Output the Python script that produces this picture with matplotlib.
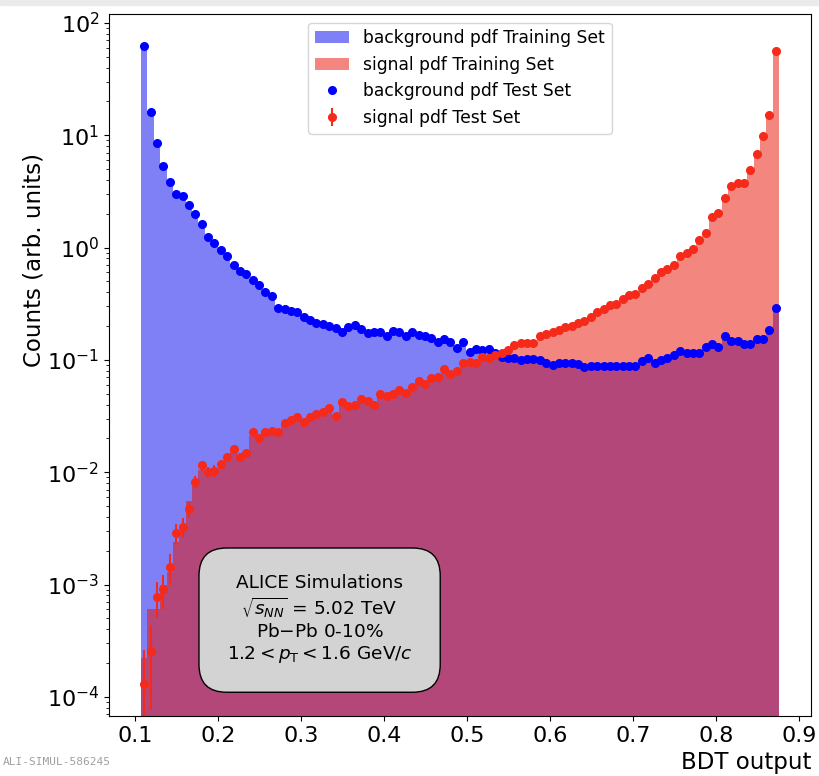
import numpy as np
import matplotlib
matplotlib.use("Agg")
import matplotlib.pyplot as plt
from matplotlib.patches import Rectangle

# binning of the BDT output (100 bins)
bdt_min = 0.107
bdt_max = 0.876
n_bins = 100

# test set (points)
bkg_test = [62.4, 16.2, 8.5, 5.3, 3.84, 3.0, 2.88, 2.41, 1.98, 1.61,
            1.24, 1.09, 0.95, 0.84, 0.695, 0.62, 0.578, 0.514, 0.461, 0.40,
            0.368, 0.288, 0.282, 0.274, 0.265, 0.243, 0.226, 0.214, 0.207, 0.200,
            0.191, 0.178, 0.195, 0.205, 0.188, 0.172, 0.178, 0.176, 0.164, 0.181,
            0.178, 0.164, 0.178, 0.167, 0.164, 0.156, 0.143, 0.153, 0.143, 0.127,
            0.143, 0.118, 0.124, 0.122, 0.124, 0.115, 0.107, 0.105, 0.103, 0.100,
            0.101, 0.101, 0.100, 0.094, 0.090, 0.093, 0.094, 0.094, 0.091, 0.087,
            0.089, 0.089, 0.088, 0.089, 0.088, 0.088, 0.088, 0.088, 0.0986, 0.103,
            0.093, 0.100, 0.103, 0.111, 0.120, 0.115, 0.116, 0.116, 0.129, 0.138,
            0.130, 0.163, 0.148, 0.148, 0.138, 0.138, 0.153, 0.153, 0.185, 0.288]

sig_test = [1.30e-4, 2.57e-4, 7.8e-4, 9.1e-4, 1.42e-3, 2.86e-3, 3.23e-3, 4.68e-3, 8.2e-3, 0.0115,
            0.0100, 0.0103, 0.0118, 0.0136, 0.0162, 0.0136, 0.0147, 0.0228, 0.0202, 0.0228,
            0.0234, 0.0228, 0.0276, 0.0292, 0.0308, 0.0282, 0.0308, 0.033, 0.0346, 0.037,
            0.0316, 0.0422, 0.0389, 0.0395, 0.0446, 0.0434, 0.0398, 0.0497, 0.0477, 0.0497,
            0.054, 0.051, 0.0577, 0.0644, 0.061, 0.069, 0.071, 0.0836, 0.0748, 0.079,
            0.0944, 0.0958, 0.0932, 0.1067, 0.105, 0.1106, 0.116, 0.1225, 0.135, 0.140,
            0.141, 0.140, 0.164, 0.170, 0.176, 0.185, 0.198, 0.200, 0.212, 0.223,
            0.239, 0.269, 0.282, 0.308, 0.312, 0.350, 0.382, 0.387, 0.435, 0.478,
            0.54, 0.603, 0.641, 0.70, 0.842, 0.901, 0.972, 1.17, 1.36, 1.88,
            2.05, 2.75, 3.53, 3.78, 3.78, 4.91, 6.78, 9.86, 15.2, 56.6]

# visible error bars of the first signal test points (the rest hide under the markers)
sig_test_err_low = [1.3e-4, 1.8e-4, 2.8e-4, 3.0e-4, 4.3e-4, 6.0e-4, 6.5e-4, 7.8e-4, 1.0e-3, 1.2e-3,
                    1.1e-3, 1.2e-3]

# training set (filled histograms)
bkg_train = [62.0, 16.5, 8.3, 5.2, 3.8, 3.0, 2.85, 2.4, 1.97, 1.6,
             1.25, 1.08, 0.95, 0.83, 0.70, 0.62, 0.575, 0.515, 0.46, 0.40,
             0.365, 0.29, 0.28, 0.274, 0.263, 0.243, 0.226, 0.214, 0.206, 0.199,
             0.19, 0.18, 0.192, 0.2, 0.188, 0.174, 0.178, 0.175, 0.165, 0.178,
             0.176, 0.165, 0.175, 0.167, 0.163, 0.156, 0.145, 0.151, 0.142, 0.13,
             0.14, 0.12, 0.123, 0.122, 0.122, 0.115, 0.108, 0.105, 0.103, 0.101,
             0.100, 0.100, 0.099, 0.094, 0.091, 0.093, 0.093, 0.093, 0.091, 0.088,
             0.089, 0.089, 0.088, 0.089, 0.088, 0.088, 0.088, 0.089, 0.097, 0.101,
             0.094, 0.100, 0.103, 0.110, 0.118, 0.115, 0.116, 0.117, 0.128, 0.136,
             0.131, 0.158, 0.148, 0.147, 0.139, 0.139, 0.152, 0.153, 0.182, 0.29]

sig_train = [2.2e-4, 6.0e-4, 6.0e-4, 1.0e-3, 1.3e-3, 2.4e-3, 3.0e-3, 5.5e-3, 7.5e-3, 1.05e-2,
             1.0e-2, 1.03e-2, 1.15e-2, 1.3e-2, 1.5e-2, 1.4e-2, 1.5e-2, 2.1e-2, 2.0e-2, 2.2e-2,
             0.0225, 0.0225, 0.027, 0.028, 0.030, 0.028, 0.030, 0.032, 0.034, 0.036,
             0.032, 0.040, 0.038, 0.039, 0.043, 0.042, 0.040, 0.048, 0.047, 0.049,
             0.053, 0.051, 0.057, 0.062, 0.060, 0.068, 0.070, 0.081, 0.075, 0.079,
             0.092, 0.094, 0.093, 0.104, 0.104, 0.110, 0.115, 0.121, 0.133, 0.139,
             0.140, 0.140, 0.160, 0.168, 0.175, 0.183, 0.195, 0.199, 0.210, 0.221,
             0.237, 0.265, 0.280, 0.303, 0.311, 0.345, 0.378, 0.386, 0.43, 0.475,
             0.535, 0.598, 0.638, 0.70, 0.835, 0.898, 0.97, 1.16, 1.35, 1.86,
             2.03, 2.72, 3.5, 3.75, 3.76, 4.88, 6.7, 9.8, 15.0, 57.0]

edges = np.linspace(bdt_min, bdt_max, n_bins + 1)
centers = 0.5 * (edges[:-1] + edges[1:])

sig_err = np.zeros(n_bins)
sig_err[:len(sig_test_err_low)] = sig_test_err_low

fig = plt.figure(figsize=(8.19, 7.76), dpi=100)
fig.patches.append(Rectangle((0, 1 - 5 / 776), 1, 5 / 776, transform=fig.transFigure,
                             color="#ebebeb", zorder=0))
ax = fig.add_axes([0.1331, 0.0773, 0.8571, 0.9047])

ax.hist(centers, bins=edges, weights=bkg_train, color="#0000ef", alpha=0.5,
        label="background pdf Training Set")
ax.hist(centers, bins=edges, weights=sig_train, color="#e81000", alpha=0.5,
        label="signal pdf Training Set")
ax.errorbar(centers, bkg_test, fmt="o", color="blue", markersize=5.5,
            label="background pdf Test Set")
ax.errorbar(centers, sig_test, yerr=sig_err, fmt="o", color="#f52a1a", markersize=5.5,
            label="signal pdf Test Set")

ax.set_yscale("log")
ax.set_xlim(0.0684, 0.9145)
ax.set_ylim(10 ** -4.171, 10 ** 2.08)
ax.tick_params(labelsize=16)
ax.set_xlabel("BDT output", fontsize=16.5, loc="right")
ax.set_ylabel("Counts (arb. units)", fontsize=16.5)
ax.yaxis.set_label_coords(-0.091, 0.649)

ax.legend(loc="upper center", fontsize=12.3)

ax.text(0.30, 0.138,
        "ALICE Simulations\n$\\sqrt{s_{NN}}$ = 5.02 TeV\nPb$-$Pb 0-10%\n"
        "1.2$ < p_{\\rm T} < $1.6 GeV/$c$",
        transform=ax.transAxes, fontsize=13.3, ha="center", va="center",
        bbox=dict(boxstyle="round,pad=1.5", facecolor="lightgray", edgecolor="black"))

fig.text(0.004, 0.012, "ALI-SIMUL-586245", fontsize=8, color="#a0a0a0",
         family="DejaVu Sans Mono", va="bottom", ha="left")

fig.savefig("out.png", dpi=100)
